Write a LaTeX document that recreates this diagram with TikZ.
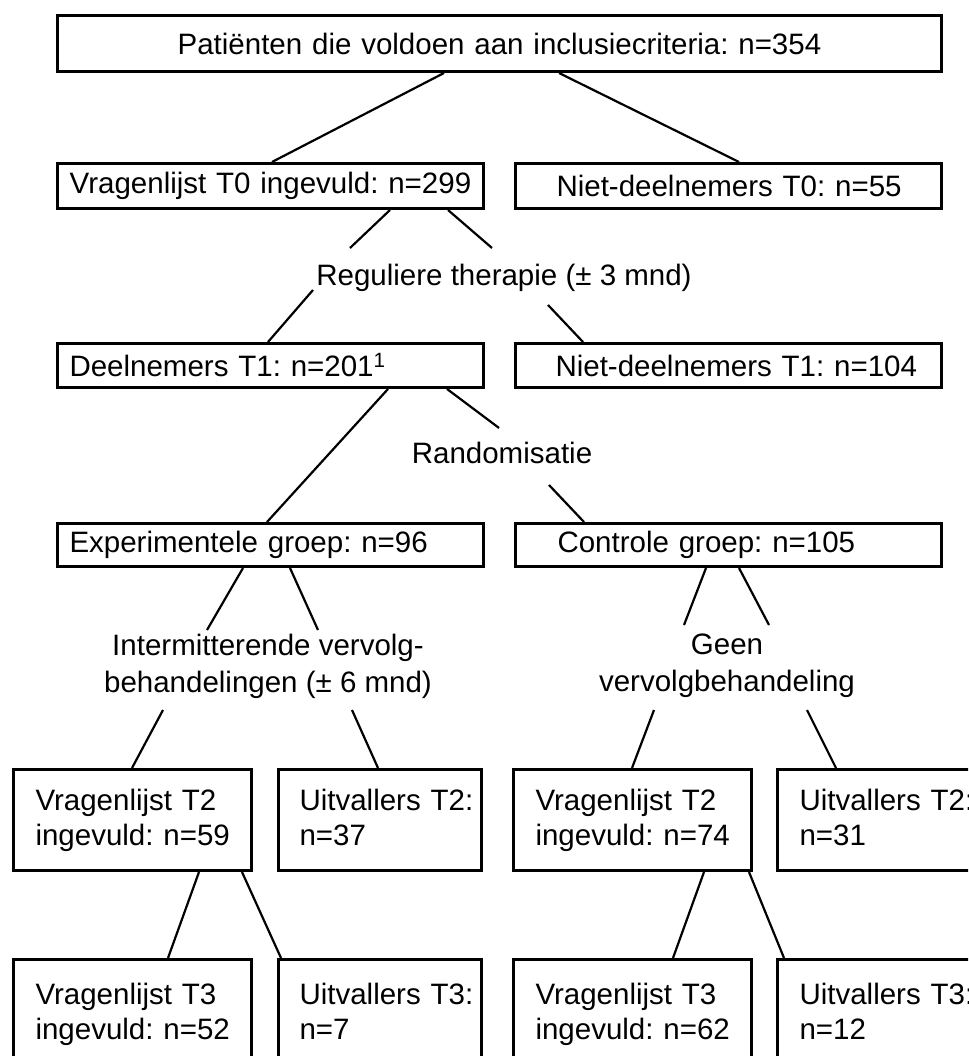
\documentclass[tikz,border=0pt]{standalone}
\usepackage{fontspec}
\setmainfont{Liberation Sans}
\frenchspacing
\begin{document}
\begin{tikzpicture}[x=1pt,y=-1pt,
  font=\fontsize{29.5}{35}\selectfont\frenchspacing,
  box/.style={draw, line width=3pt, anchor=north west, inner ysep=0pt, align=left},
  conn/.style={line width=2.2pt},
  lbl/.style={inner sep=0pt, align=center, font=\fontsize{29.5}{37}\selectfont}]
\useasboundingbox (0,0) rectangle (968,1056);
\clip (0,0) rectangle (968,1056);
\fill[white] (0,0) rectangle (968,1056);
% boxes
\node[box, align=center, text width=884pt, inner xsep=0pt, minimum height=56pt] (top) at (56,14) {Patiënten die voldoen aan inclusiecriteria: n=354};
\node[box, align=center, text width=426pt, inner xsep=0pt, minimum height=45pt] (A) at (56,162) {Vragenlijst T0 ingevuld: n=299};
\node[box, text width=344pt, inner xsep=41pt, minimum height=45pt] (B) at (514,162) {\mbox{Niet-deelnemers T0: n=55}};
\node[box, text width=402pt, inner xsep=12pt, minimum height=44pt] (C) at (56,342) {Deelnemers T1: n=201\textsuperscript{1}};
\node[box, text width=346pt, inner xsep=40pt, minimum height=44pt] (D) at (514,342) {\mbox{Niet-deelnemers T1: n=104}};
\node[box, text width=402pt, inner xsep=12pt, minimum height=43pt] (E) at (56,522) {Experimentele groep: n=96};
\node[box, text width=342pt, inner xsep=42pt, minimum height=43pt] (F) at (514,522) {Controle groep: n=105};
\node[box, text width=194pt, inner xsep=22pt, minimum height=101pt] (G) at (12,768) {Vragenlijst~T2\\ingevuld:~n=59};
\node[box, text width=161pt, inner xsep=21pt, minimum height=101pt] (H) at (277,768) {Uitvallers~T2:\\n=37\vphantom{g}};
\node[box, text width=194pt, inner xsep=22pt, minimum height=101pt] (I) at (512,768) {Vragenlijst~T2\\ingevuld:~n=74};
\node[box, text width=216pt, inner xsep=22pt, minimum height=101pt] (J) at (776,768) {Uitvallers~T2:\\n=31\vphantom{g}};
\node[box, text width=194pt, inner xsep=22pt, minimum height=110pt] (G3) at (12,958) {Vragenlijst~T3\\ingevuld:~n=52};
\node[box, text width=161pt, inner xsep=21pt, minimum height=110pt] (H3) at (277,958) {Uitvallers~T3:\\n=7\vphantom{g}};
\node[box, text width=194pt, inner xsep=22pt, minimum height=110pt] (I3) at (512,958) {Vragenlijst~T3\\ingevuld:~n=62};
\node[box, text width=216pt, inner xsep=22pt, minimum height=110pt] (J3) at (776,958) {Uitvallers~T3:\\n=12\vphantom{g}};
% labels
\node[lbl, anchor=base] (reg) at (504,285) {Reguliere therapie (± 3 mnd)};
\node[lbl, anchor=base] (rand) at (502,463) {Randomisatie};
\node[lbl] (int) at (268,666) {Intermitterende vervolg-\\behandelingen (± 6 mnd)};
\node[lbl] (geen) at (727,666) {Geen\\vervolgbehandeling};
% connectors
\draw[conn] ([shift={(388,0)}]top.south west) -- ([shift={(216,0)}]A.north west);
\draw[conn] ([shift={(503,0)}]top.south west) -- ([shift={(225,0)}]B.north west);
\draw[conn] ([shift={(334,0)}]A.south west) -- ([shift={(-154,-37)}]reg.base);
\draw[conn] ([shift={(392,0)}]A.south west) -- ([shift={(-12,-37)}]reg.base);
\draw[conn] ([shift={(-191,5)}]reg.base) -- ([shift={(212,0)}]C.north west);
\draw[conn] ([shift={(44,20)}]reg.base) -- ([shift={(69,0)}]D.north west);
\draw[conn] ([shift={(332,0)}]C.south west) -- ([shift={(211,0)}]E.north west);
\draw[conn] ([shift={(391,0)}]C.south west) -- ([shift={(-3,-35)}]rand.base);
\draw[conn] ([shift={(47,22)}]rand.base) -- ([shift={(70,0)}]F.north west);
\draw[conn] ([shift={(187,0)}]E.south west) -- ([shift={(-61,-36)}]int.center);
\draw[conn] ([shift={(234,0)}]E.south west) -- ([shift={(50,-36)}]int.center);
\draw[conn] ([shift={(-105,44)}]int.center) -- ([shift={(120,0)}]G.north west);
\draw[conn] ([shift={(84,44)}]int.center) -- ([shift={(101,0)}]H.north west);
\draw[conn] ([shift={(192,0)}]F.south west) -- ([shift={(-43,-41)}]geen.center);
\draw[conn] ([shift={(225,0)}]F.south west) -- ([shift={(42,-41)}]geen.center);
\draw[conn] ([shift={(-73,44)}]geen.center) -- ([shift={(120,0)}]I.north west);
\draw[conn] ([shift={(80,44)}]geen.center) -- ([shift={(60,0)}]J.north west);
\draw[conn] ([shift={(187,0)}]G.south west) -- ([shift={(156,0)}]G3.north west);
\draw[conn] ([shift={(230,0)}]G.south west) -- ([shift={(4,0)}]H3.north west);
\draw[conn] ([shift={(192,0)}]I.south west) -- ([shift={(161,0)}]I3.north west);
\draw[conn] ([shift={(237,0)}]I.south west) -- ([shift={(8,0)}]J3.north west);
\end{tikzpicture}
\end{document}
